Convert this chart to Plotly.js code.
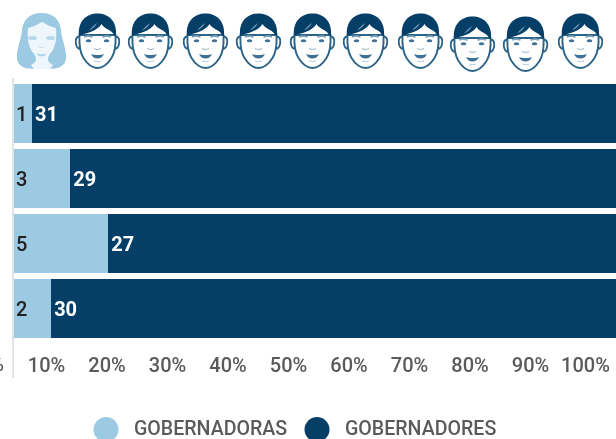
<!DOCTYPE html>
<html><head><meta charset="utf-8">
<script src="https://cdn.plot.ly/plotly-3.0.1.min.js"></script>
<style>html,body{margin:0;padding:0;background:#fff;overflow:hidden;width:616px;height:439px}#c{width:623px;height:439px;filter:blur(0.55px)}</style>
</head><body><div id="c"></div>
<script>
const rows = ["a","b","c","d"];
const gobernadoras = [1,3,5,2];
const gobernadores = [31,29,27,30];
const tickLabels = ["10%","20%","30%","40%","50%","60%","70%","80%","90%","100%"];
const tickCenters = [46,106.5,167,227.5,288,348.5,409,469.5,530,585];
const manCenters = [97,150,205,258,312,365,420,472,525,580];
const manTops = [13,13,13,13,13,13,13,16,16,13];
const LIGHT="#9ccae3", DARK="#053f68", TXT="#5a5a5a";

const L=12.5,W=610,T=81,H=260;
const px=x=>(x-L)/W, py=y=>(T+H-y)/H;

const man=`<svg xmlns="http://www.w3.org/2000/svg" viewBox="0 0 46 56" width="184" height="224">
<g fill="#fff" stroke="#2c6388" stroke-width="1.9">
<path d="M5.500 24c-3-1-4.500 1.500-4.300 5 .2 4 2 7 5.300 7M40.500 24c3-1 4.500 1.500 4.300 5-.2 4-2 7-5.300 7"/>
<path d="M5 22c-.5 10 0 17 4 23 3.500 5.500 9 10 14 10s10.500-4.500 14-10c4-6 4.500-13 4-23z"/></g>
<path d="M4.500 23C3 8 12 .4 23 .4S43 8 41.500 23c-1-.3-1.600-.8-2.300-1.800-1.800-2.800-5-4.500-7-5.500-2-1-4-2.500-5.200-4.700-2 3.400-6 6-11 8-4 1.500-7.500 2-11 3.800z" fill="#053f68"/>
<path d="M14.500 17.500c2.500-2.500 5-5.500 8-7.500-1.500 3-4 6-8 7.500z" fill="#7fa5bf"/>
<g fill="none" stroke="#7fa5bf" stroke-width="1.700"><path d="M9.500 24c2-.8 6-1 8.500 .3M28 24.300c2.500-1.300 6.500-1.100 8.500-.3"/></g>
<g fill="#3d7296"><ellipse cx="14" cy="27.800" rx="2.800" ry="1.500"/><ellipse cx="32" cy="27.800" rx="2.800" ry="1.500"/></g>
<path d="M19.500 35.500c2 1.200 5 1.200 7 0" fill="none" stroke="#8fb0c6" stroke-width="1"/>
<path d="M16.500 41c3 1.300 10 1.300 13 0-1.200 3.300-3.800 4.500-6.500 4.500s-5.300-1.200-6.500-4.500z" fill="#3d7296"/>
<path d="M19.500 48c2.300 .8 4.700 .8 7 0" fill="none" stroke="#b5cbda" stroke-width="1"/>
</svg>`;
const woman=`<svg xmlns="http://www.w3.org/2000/svg" viewBox="0 0 50 56" width="200" height="224">
<path d="M25 0C13 0 6.500 7 5.500 17 4.800 27 0 35 .4 45c.2 5 4 9.500 11 10.500L20 56h10l8.600-.5c7-1 10.800-5.500 11-10.500.4-10-4.400-18-5.100-28C43.500 7 37 0 25 0z" fill="#9ccae3"/>
<path d="M25 9c-4 3-9 5-13.500 6-1 10 .5 19 4.500 24 2.500 3 3.500 4.500 3.500 7.500 0 2-2 4-5 5.500l3 4h16l3-4c-3-1.500-5-3.500-5-5.500 0-3 1-4.500 3.500-7.500 4-5 5.500-14 4.500-24-4.500-1-9.500-3-13.500-6z" fill="#eef6fb"/>
<g fill="#b7d9ec"><ellipse cx="16" cy="25" rx="4.500" ry="2"/><ellipse cx="34" cy="25" rx="4.500" ry="2"/></g>
<path d="M20.500 40.500c3 1 6 1 9 0-1 3.800-8 3.800-9 0z" fill="#a9d1e8"/>
<path d="M22.500 34c1.500 .8 3.500 .8 5 0" fill="none" stroke="#c4e0f0" stroke-width="1"/>
</svg>`;
const uri=s=>"data:image/svg+xml;charset=utf-8,"+encodeURIComponent(s);

const images=[{source:uri(woman),xref:"paper",yref:"paper",x:px(16),y:py(13),sizex:50/W,sizey:56/H,sizing:"stretch",xanchor:"left",yanchor:"top",layer:"above"}];
manCenters.forEach((c,i)=>images.push({source:uri(man),xref:"paper",yref:"paper",x:px(c-23),y:py(manTops[i]),sizex:46/W,sizey:56/H,sizing:"stretch",xanchor:"left",yanchor:"top",layer:"above"}));

const traces=[
 {type:"bar",orientation:"h",y:rows,x:gobernadoras,name:"GOBERNADORAS",marker:{color:LIGHT},text:gobernadoras.map(String),textposition:"inside",insidetextanchor:"start",constraintext:"none",textangle:0,textfont:{family:"Roboto",size:20,color:"#222222",weight:500},hoverinfo:"none",showlegend:false},
 {type:"bar",orientation:"h",y:rows,x:gobernadores,name:"GOBERNADORES",marker:{color:DARK},text:gobernadores.map(String),textposition:"inside",insidetextanchor:"start",constraintext:"none",textangle:0,textfont:{family:"Roboto",size:20,color:"#ffffff",weight:700},hoverinfo:"none",showlegend:false}
];
const scale=W/100;
const layout={
 width:623,height:439,autosize:false,paper_bgcolor:"#fff",plot_bgcolor:"#fff",
 margin:{l:L,r:0,t:T,b:439-T-H,pad:0},
 barmode:"stack",barnorm:"percent",bargap:0.1,showlegend:false,
 font:{family:"Roboto"},
 xaxis:{range:[0,100],showgrid:false,zeroline:false,showline:false,
  tickmode:"array",tickvals:tickCenters.map(c=>(c-L)/scale),ticktext:tickLabels,
  ticks:"outside",ticklen:6,tickcolor:"rgba(0,0,0,0)",tickfont:{family:"Roboto",size:20,color:TXT,weight:500},tickangle:0},
 yaxis:{type:"category",autorange:"reversed",showgrid:false,zeroline:false,showticklabels:false,ticks:"",showline:false},
 images,
 shapes:[
  {type:"line",xref:"paper",yref:"paper",x0:0,x1:0,y0:py(78),y1:py(378),line:{color:"#e2e5e8",width:2},layer:"above"},
  {type:"circle",xref:"paper",yref:"paper",x0:px(93),x1:px(118),y0:py(417),y1:py(442),fillcolor:LIGHT,line:{width:0}},
  {type:"circle",xref:"paper",yref:"paper",x0:px(304),x1:px(329),y0:py(417),y1:py(442),fillcolor:DARK,line:{width:0}}
 ],
 annotations:[
  {xref:"paper",yref:"paper",x:px(5),y:py(364),text:"0%",showarrow:false,xanchor:"right",yanchor:"middle",font:{family:"Roboto",size:20,color:TXT,weight:500}},
  {xref:"paper",yref:"paper",x:px(131.5),y:py(428),text:"GOBERNADORAS",showarrow:false,xanchor:"left",yanchor:"middle",font:{family:"Roboto",size:19.6,color:TXT,weight:500}},
  {xref:"paper",yref:"paper",x:px(342.5),y:py(428),text:"GOBERNADORES",showarrow:false,xanchor:"left",yanchor:"middle",font:{family:"Roboto",size:19.6,color:TXT,weight:500}}
 ]
};
Plotly.newPlot("c",traces,layout,{displayModeBar:false,staticPlot:true});
</script></body></html>
